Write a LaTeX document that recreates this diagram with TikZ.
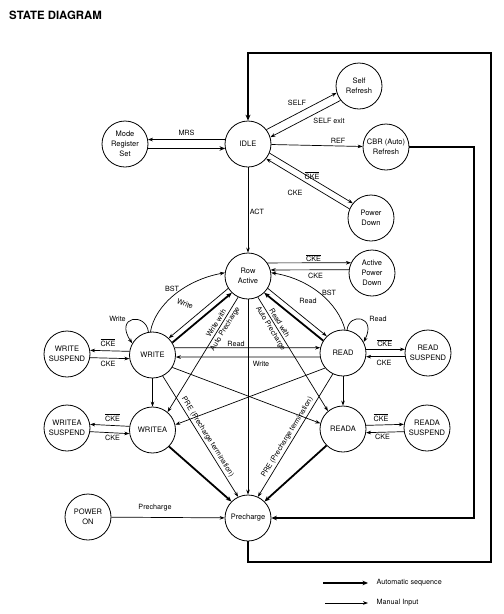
\documentclass[tikz,border=0pt]{standalone}
\usepackage{fontspec}
\setmainfont{TeX Gyre Heros}
\usetikzlibrary{arrows.meta}
\newcommand\ckebar{$\overline{\mbox{CKE}}$}
\begin{document}
\begin{tikzpicture}[x=1pt,y=-1pt,
  nf/.style={font=\fontsize{7.5}{10}\selectfont},
  state/.style={circle,draw,line width=0.8pt,minimum size=46pt,inner sep=0pt,align=center,nf},
  lbl/.style={inner sep=0.5pt,font=\fontsize{7.2}{9}\selectfont},
  slbl/.style={lbl,sloped,inner sep=2pt},
  manu/.style={draw,line width=0.7pt,-{Stealth[length=5pt,width=3.6pt]}},
  autom/.style={draw,line width=1.8pt,-{Stealth[length=5.5pt,width=4.6pt]}},
  boxl/.style={draw,line width=2.2pt,line join=miter}]

\useasboundingbox (0,0) rectangle (504,614);

\node[anchor=base west,inner sep=0pt,font=\bfseries\fontsize{11.4}{13}\selectfont] (title) at (9,19) {STATE DIAGRAM};

% states
\node[state] (mrs)     at (125,144) {Mode\\Register\\Set};
\node[state] (idle)    at (248,144) {IDLE};
\node[state] (selfref) at (359,86)  {Self\\Refresh};
\node[state] (cbr)     at (386,147) {CBR (Auto)\\Refresh};
\node[state] (pdown)   at (371,218) {Power\\Down};
\node[state] (rowact)  at (248,276) {Row\\Active};
\node[state] (apd)     at (372,273) {Active\\Power\\Down};
\node[state] (write)   at (152.5,355) {WRITE};
\node[state] (wsus)    at (67,354)  {WRITE\\SUSPEND};
\node[state] (writea)  at (152.5,430) {WRITEA};
\node[state] (wasus)   at (67,428)  {WRITEA\\SUSPEND};
\node[state] (read)    at (343,353) {READ};
\node[state] (rsus)    at (428,353) {READ\\SUSPEND};
\node[state] (reada)   at (343,429) {READA};
\node[state] (rasus)   at (427,428) {READA\\SUSPEND};
\node[state] (prech)   at (248,518) {Precharge};
\node[state] (poweron) at (88,517)  {POWER\\ON};

% IDLE area
\draw[manu] (idle.169) -- (mrs.11);
\draw[autom] (mrs.-11) -- (idle.191);
\draw[manu] (idle.38) -- (selfref.197);
\draw[manu] (selfref.218) -- (idle.17);
\draw[manu] (idle) -- (cbr);
\draw[manu] (idle.-23) -- (pdown.141);
\draw[manu] (pdown.157) -- (idle.-39);
\draw[manu] (idle) -- (rowact);

% Row Active / Active Power Down
\draw[manu] (rowact.34) -- (apd.154);
\draw[manu] (apd.172) -- (rowact.15);

% Row Active <-> WRITE
\draw[manu] (rowact.212.6) -- (write.46.6);
\draw[autom] (write.32.6) -- (rowact.226.6);
\draw[manu] (write.95) .. controls (155,305) and (185,280) .. (rowact.172);

% Row Active <-> READ
\draw[manu] (rowact.-32) -- (read.134);
\draw[autom] (read.148) -- (rowact.-46);
\draw[manu] (read.85) .. controls (338,303) and (310,279) .. (rowact.8);

% self loops
\draw[manu] (write.100) .. controls (146,312) and (114,316) .. (write.150);
\draw[manu] (read.80) .. controls (349,312) and (377,316) .. (read.28);

% suspends
\draw[manu] (write.171) -- (wsus.9);
\draw[manu] (wsus.-9) -- (write.189);
\draw[manu] (writea.171) -- (wasus.9);
\draw[manu] (wasus.-9) -- (writea.189);
\draw[manu] (read.9) -- (rsus.171);
\draw[manu] (rsus.189) -- (read.-9);
\draw[manu] (reada.9) -- (rasus.171);
\draw[manu] (rasus.189) -- (reada.-9);

% WRITE <-> READ
\draw[manu] (write.18) -- (read.167);
\draw[manu] (read.190) -- (write.-5);

% verticals
\draw[manu] (write) -- (writea);
\draw[manu] (read) -- (reada);
\draw[manu] (rowact) -- (prech);

% with auto precharge
\draw[manu] (rowact.245) -- node[slbl,above,pos=0.25] (lwa1) {Write with} node[slbl,below,pos=0.25] (lwa2) {Auto Precharge} (writea.50);
\draw[manu] (rowact.295) -- node[slbl,above,pos=0.25] (lra1) {Read with} node[slbl,below,pos=0.25] (lra2) {Auto Precharge} (reada.130);

% precharge termination
\draw[manu] (write.-64) -- node[slbl,above,pos=0.53] (lpre1) {PRE (Precharge termination)} (prech.115);
\draw[manu] (read.244) -- node[slbl,above,pos=0.54] (lpre2) {PRE (Precharge termination)} (prech.65);

% crossing
\draw[manu] (write.-32) -- (reada.166);
\draw[manu] (read.220) -- (writea.13);

% automatic to precharge
\draw[autom] (writea.-45) -- (prech.135);
\draw[autom] (reada.-135) -- (prech.45);

% power on
\draw[manu] (poweron) -- (prech);

% big loop Precharge -> IDLE
\coordinate (bl) at (248,562);
\coordinate (br) at (491,562);
\coordinate (tr) at (491,53);
\coordinate (tl) at (248,53);
\draw[boxl,-{Stealth[length=6pt,width=5pt]}] (prech.south) -- (bl) -- (br) -- (tr) -- (tl) -- (idle.north);

% CBR -> Precharge
\coordinate (cbrr) at (474,147);
\draw[autom,line join=miter] (cbr.east) -- (cbrr) |- (prech.east);

% labels
\node[lbl] (lmrs)   at (186.5,132.5) {MRS};
\node[lbl] (lself)  at (297,103) {SELF};
\node[lbl] (lsexit) at (329,120.5) {SELF exit};
\node[lbl] (lref)   at (338,140.5) {REF};
\node[lbl] (lpd1)   at (312,175.5) {\ckebar};
\node[lbl] (lpd2)   at (295,192.5) {CKE};
\node[lbl] (lact)   at (257,211.5) {ACT};
\node[lbl] (lapd1)  at (313.5,258) {\ckebar};
\node[lbl] (lapd2)  at (315.5,275.5) {CKE};
\node[lbl] (lbst1)  at (172,289) {BST};
\node[lbl,rotate=-20] (lw1) at (185,304) {Write};
\node[lbl] (lbst2)  at (329,293) {BST};
\node[lbl] (lr1)    at (308,301) {Read};
\node[lbl] (lwl)    at (117.5,318.5) {Write};
\node[lbl] (lrl)    at (378,319) {Read};
\node[lbl] (lws1)   at (108,342.5) {\ckebar};
\node[lbl] (lws2)   at (108,364) {CKE};
\node[lbl] (lwas1)  at (112.5,417.5) {\ckebar};
\node[lbl] (lwas2)  at (112.5,438) {CKE};
\node[lbl] (lrs1)   at (384.7,343.3) {\ckebar};
\node[lbl] (lrs2)   at (384,363) {CKE};
\node[lbl] (lras1)  at (381,417.5) {\ckebar};
\node[lbl] (lras2)  at (382.5,436.5) {CKE};
\node[lbl] (lrh)    at (236,343.5) {Read};
\node[lbl] (lwh)    at (261,364) {Write};
\node[lbl] (lpc)    at (155,508) {Precharge};

% legend
\coordinate (la1) at (323,583);
\coordinate (la2) at (368,583);
\draw[autom] (la1) -- (la2);
\node[lbl,anchor=west] (lt1) at (376,583) {Automatic sequence};
\coordinate (lm1) at (325,603);
\coordinate (lm2) at (368,603);
\draw[manu] (lm1) -- (lm2);
\node[lbl,anchor=west] (lt2) at (376,603) {Manual Input};
\end{tikzpicture}
\end{document}
